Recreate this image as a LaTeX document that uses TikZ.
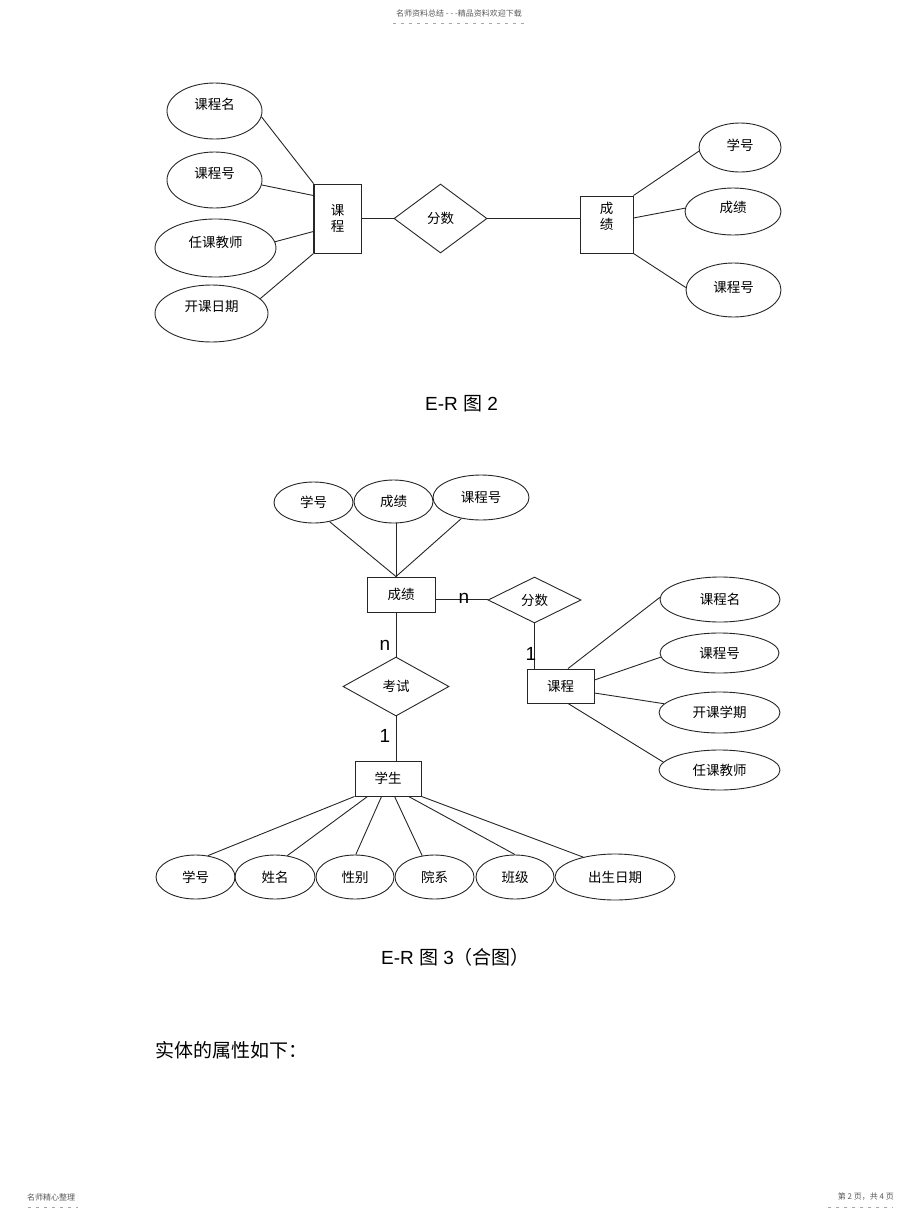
\documentclass[tikz,border=0pt]{standalone}
\usepackage{fontspec}
\setmainfont{Liberation Sans}
\newfontfamily\cjk{Noto Sans CJK SC}
\usetikzlibrary{shapes.geometric,calc}
\newcommand\erfont{\cjk\fontsize{13.5}{16}\selectfont}
\begin{document}
\begin{tikzpicture}[x=1pt,y=-1pt,
  lnk/.style={draw=black!85,line width=0.9pt},
  attr/.style={ellipse,draw=black!85,line width=0.9pt,inner sep=0pt,font=\erfont},
  ent/.style={rectangle,draw=black!85,line width=0.9pt,inner sep=0pt,font=\erfont,align=center},
  rel/.style={diamond,draw=black!85,line width=0.9pt,inner sep=0pt,font=\erfont},
  lbl/.style={font=\erfont,inner sep=0pt,align=center},
  card/.style={font=\fontsize{19}{22}\selectfont,inner sep=0pt},
  captxt/.style={font=\fontsize{19}{22}\selectfont,inner sep=0pt},
  tiny/.style={font=\cjk\fontsize{8}{9}\selectfont,text=black!65,inner sep=0pt},
  dashln/.style={draw=black!35,line width=0.6pt,dash pattern=on 3pt off 5pt}
]
\useasboundingbox (0,0) rectangle (920,1221);

% header / footer
\node[tiny] (hdr) at (459,13) {名师资料总结 - - -精品资料欢迎下载};
\draw[dashln] (393,23) -- (528,23);
\node[tiny,anchor=west] (fl) at (27,1197) {名师精心整理};
\draw[dashln] (28,1207) -- (78,1207);
\node[tiny,anchor=east] (fr) at (894,1197) {第 2 页，共 4 页};
\draw[dashln] (828,1207) -- (893,1207);

% ---------------- E-R 2 ----------------
\node[attr,minimum width=95pt,minimum height=56pt,label={[lbl,yshift=7pt]center:课程名}] (e1) at (214.5,111) {};
\node[attr,minimum width=95pt,minimum height=56pt,label={[lbl,yshift=7pt]center:课程号}] (e2) at (214.5,180) {};
\node[attr,minimum width=121pt,minimum height=58pt,label={[lbl,yshift=6pt]center:任课教师}] (e3) at (215.5,248) {};
\node[attr,minimum width=113pt,minimum height=57pt,label={[lbl,yshift=7pt]center:开课日期}] (e4) at (211.5,313.5) {};
\node[ent,minimum width=47pt,minimum height=69pt] (k) at (337.5,218.5) {课\\程};
\draw[black!85,line width=2pt] (k.north west) -- (k.south west);
\node[rel,minimum width=93pt,minimum height=69pt] (d1) at (440.5,218.5) {分数};
\node[ent,minimum width=53pt,minimum height=57pt,label={[lbl,yshift=8pt]center:成\\绩}] (g) at (606.5,224.5) {};
\node[attr,minimum width=82pt,minimum height=49pt,label={[lbl,yshift=2pt]center:学号}] (a1) at (740,147.5) {};
\node[attr,minimum width=96pt,minimum height=47pt,label={[lbl,yshift=4pt]center:成绩}] (a2) at (733,211.5) {};
\node[attr,minimum width=95pt,minimum height=54pt,label={[lbl,yshift=3pt]center:课程号}] (a3) at (733.5,290) {};

\draw[lnk] (e1.-7) -- (k.north west);
\draw[lnk] (e2.-6) -- ([yshift=-12pt]k.north west);
\draw[lnk] (e3.6) -- ([yshift=22pt]k.south west);
\draw[lnk] (e4.17) -- (k.south west);
\draw[lnk] (k.east) -- (d1.west);
\draw[lnk] (d1.east) -- (d1.east -| g.west);
\draw[lnk] (g.north east) -- (a1.-175);
\draw[lnk] ([yshift=6.5pt]g.east) -- (a2.176);
\draw[lnk] (g.south east) -- (a3.177);

\node[captxt] (cap1) at (461.5,404) {E-R {\cjk 图} 2};

% ---------------- E-R 3 ----------------
\node[attr,minimum width=79pt,minimum height=41pt] (t1) at (313.5,502.5) {学号};
\node[attr,minimum width=79pt,minimum height=43pt] (t2) at (393.5,501.5) {成绩};
\node[attr,minimum width=96pt,minimum height=45pt] (t3) at (481,497.5) {课程号};
\node[ent,minimum width=68pt,minimum height=35pt] (s) at (401,594.5) {成绩};
\node[rel,minimum width=93pt,minimum height=46pt] (f) at (534.5,600) {分数};
\node[ent,minimum width=67pt,minimum height=34pt] (c) at (560.5,686) {课程};
\node[rel,minimum width=106pt,minimum height=59pt] (x) at (396,686.5) {考试};
\node[ent,minimum width=66pt,minimum height=35pt] (st) at (388,778.5) {学生};

\node[attr,minimum width=120pt,minimum height=45pt] (r1) at (720,599.5) {课程名};
\node[attr,minimum width=119pt,minimum height=40pt] (r2) at (719.5,653) {课程号};
\node[attr,minimum width=121pt,minimum height=41pt] (r3) at (719.5,712.5) {开课学期};
\node[attr,minimum width=121pt,minimum height=40pt] (r4) at (719.5,770) {任课教师};

\node[attr,minimum width=79pt,minimum height=44pt] (b1) at (195.5,877) {学号};
\node[attr,minimum width=80pt,minimum height=44pt] (b2) at (275,877) {姓名};
\node[attr,minimum width=78pt,minimum height=44pt] (b3) at (355,877) {性别};
\node[attr,minimum width=79pt,minimum height=44pt] (b4) at (434.5,877) {院系};
\node[attr,minimum width=78pt,minimum height=44pt] (b5) at (515,877) {班级};
\node[attr,minimum width=120pt,minimum height=46pt] (b6) at (615,877) {出生日期};

\coordinate (sp) at ([xshift=-5pt]s.north);
\draw[lnk] (t1.-50) -- (sp);
\draw[lnk] (sp |- t2.south) -- (sp);
\draw[lnk] (t3.-133) -- (sp);
\draw[lnk] ([yshift=-5pt]s.east) -- ([yshift=-5pt]s.east -| f.west);
\draw[lnk] (f.south) -- (f.south |- c.north);
\draw[lnk] ([xshift=-5pt]s.south) -- ([xshift=-5pt]s.south |- x.north);
\draw[lnk] (x.south) -- (x.south |- st.north);

\draw[lnk] ([xshift=7.5pt]c.north) -- (r1.178);
\draw[lnk] ([yshift=6pt]c.east) -- (r2.-176);
\draw[lnk] ([yshift=-7pt]c.east) -- (r3.171);
\draw[lnk] ([xshift=7.5pt]c.south) -- (r4.172);

\draw[lnk] (st.south west) -- (b1.60);
\draw[lnk] ([xshift=13pt]st.south west) -- (b2.60);
\draw[lnk] ([xshift=27pt]st.south west) -- (b3.88);
\draw[lnk] ([xshift=40pt]st.south west) -- (b4.120);
\draw[lnk] ([xshift=54pt]st.south west) -- (b5.90);
\draw[lnk] (st.south east) -- (b6.148);

\node[card] (n1) at (464,598) {n};
\node[card] (o1) at (531,654) {1};
\node[card] (n2) at (385,645) {n};
\node[card] (o2) at (385,736) {1};

\node[captxt] (cap2) at (455.5,957) {E-R {\cjk 图} 3{\cjk （合图）}};
\node[anchor=west,inner sep=0pt,font=\cjk\fontsize{19}{22}\selectfont] (txt) at (155,1050) {实体的属性如下：};
\end{tikzpicture}
\end{document}
